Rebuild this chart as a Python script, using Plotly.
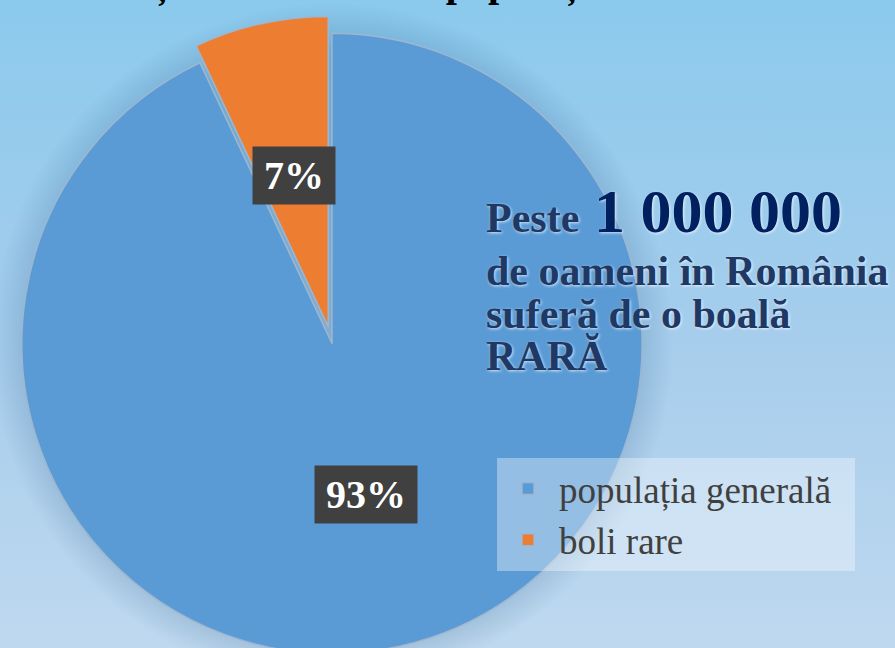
import math
import base64
import plotly.graph_objects as go

# ---------------- data ----------------
labels = ["populația generală", "boli rare"]
values = [93, 7]
title_text = "Incidența bolilor rare în populație"
headline_prefix = "Peste"
headline_number = "1 000 000"
headline_lines = ["de oameni în România", "suferă de o boală", "RARĂ"]

# ---------------- style ----------------
colors = ["#5B9BD5", "#ED7D31"]
pulls = [0, 0.056]
SERIF = "Times New Roman, Liberation Serif, serif"
W, H = 895, 671
MT = 16
PH = H - MT
dom_x = [0, 664 / W]
LEGEND_PAD = "\u00a0\u00a0"


def px_x(x):
    return x / W


def px_y(y):
    return 1 - (y - MT) / PH


# pie geometry (as plotly computes it)
cx = W * (dom_x[0] + dom_x[1]) / 2
cy = MT + PH / 2
r = min(W * (dom_x[1] - dom_x[0]), PH) / 2 / (1 + max(pulls))

fig = go.Figure(
    go.Pie(
        labels=[lab + LEGEND_PAD for lab in labels],
        values=values,
        sort=False,
        direction="clockwise",
        rotation=0,
        pull=pulls,
        marker=dict(colors=colors, line=dict(color="#9DB7D0", width=1.5)),
        textinfo="none",
        hoverinfo="label+percent",
        domain=dict(x=dom_x, y=[0, 1]),
    )
)

annotations = []

# percentage labels in dark boxes, placed on each slice's bisector
LBL = 40
total = sum(values)
start = 0.0
for v, p in zip(values, pulls):
    frac = v / total
    mid = math.radians((start + frac / 2) * 360)
    dist = (0.5 + p) * r
    lx = cx + dist * math.sin(mid)
    ly = cy - dist * math.cos(mid)
    start += frac
    pct = f"{round(frac * 100)}"
    annotations.append(
        dict(
            x=px_x(lx), y=px_y(ly), xref="paper", yref="paper",
            text=pct + "%",
            showarrow=False, xanchor="center", yanchor="middle",
            bgcolor="#404040", borderpad=0,
            width=0.5 * LBL * len(pct) + LBL + 22, height=57,
            font=dict(family=SERIF, size=LBL, color="white", weight="bold"),
        )
    )


def text_ann(txt, x, baseline, size, color):
    return dict(
        x=px_x(x), y=px_y(baseline - 0.35 * size), xref="paper", yref="paper",
        text=txt, showarrow=False, xanchor="left", yanchor="middle",
        font=dict(family=SERIF, size=size, color=color, weight="bold",
                  shadow="1px 1px 3px rgba(255,255,255,0.75)"),
    )


annotations.append(text_ann(headline_prefix, 484, 233, 42, "#1F3864"))
annotations.append(text_ann(headline_number, 592, 233, 62, "#002060"))
for i, line in enumerate(headline_lines):
    annotations.append(text_ann(line, 484, 286 + 42.5 * i, 42, "#1F3864"))

# title (mostly above the visible area)
annotations.append(
    dict(
        x=px_x(cx), y=px_y(0), xref="paper", yref="paper",
        text=title_text, showarrow=False, xanchor="center", yanchor="bottom",
        yshift=-8, xshift=-17,
        font=dict(family=SERIF, size=40, color="black", weight="bold"),
    )
)

# background gradient + soft halo behind the pie
svg = f"""<svg xmlns='http://www.w3.org/2000/svg' width='{W}' height='{H}' viewBox='0 0 {W} {H}' preserveAspectRatio='none'>
<defs>
<linearGradient id='g' x1='0' y1='0' x2='0' y2='1'>
<stop offset='0' stop-color='#8BCAED'/><stop offset='0.5' stop-color='#A6CDEC'/><stop offset='1' stop-color='#C0D9EF'/>
</linearGradient>
<radialGradient id='h' cx='{cx}' cy='{cy}' r='{r * 1.1}' gradientUnits='userSpaceOnUse'>
<stop offset='0.85' stop-color='#1A4A7A' stop-opacity='0.25'/>
<stop offset='1' stop-color='#1A4A7A' stop-opacity='0'/>
</radialGradient>
</defs>
<rect width='{W}' height='{H}' fill='url(#g)'/>
<circle cx='{cx}' cy='{cy}' r='{r * 1.1}' fill='url(#h)'/>
</svg>"""
src = "data:image/svg+xml;base64," + base64.b64encode(svg.encode("utf-8")).decode()

fig.update_layout(
    width=W, height=H,
    margin=dict(l=0, r=0, t=MT, b=0),
    paper_bgcolor="#A6CDEC",
    plot_bgcolor="rgba(0,0,0,0)",
    showlegend=True,
    legend=dict(
        x=px_x(497), y=px_y(458), xanchor="left", yanchor="top",
        bgcolor="rgba(255,255,255,0.35)",
        font=dict(family=SERIF, size=37, color="#404040"),
        itemwidth=52,
    ),
    annotations=annotations,
    images=[dict(source=src, xref="paper", yref="paper", x=0, y=px_y(0),
                 sizex=1, sizey=H / PH, xanchor="left", yanchor="top",
                 sizing="stretch", layer="below")],
)

fig.write_html(
    "out.html",
    config={"displayModeBar": False},
    post_script="document.body.style.margin='0';document.body.style.overflow='hidden';document.documentElement.style.overflow='hidden';",
)
